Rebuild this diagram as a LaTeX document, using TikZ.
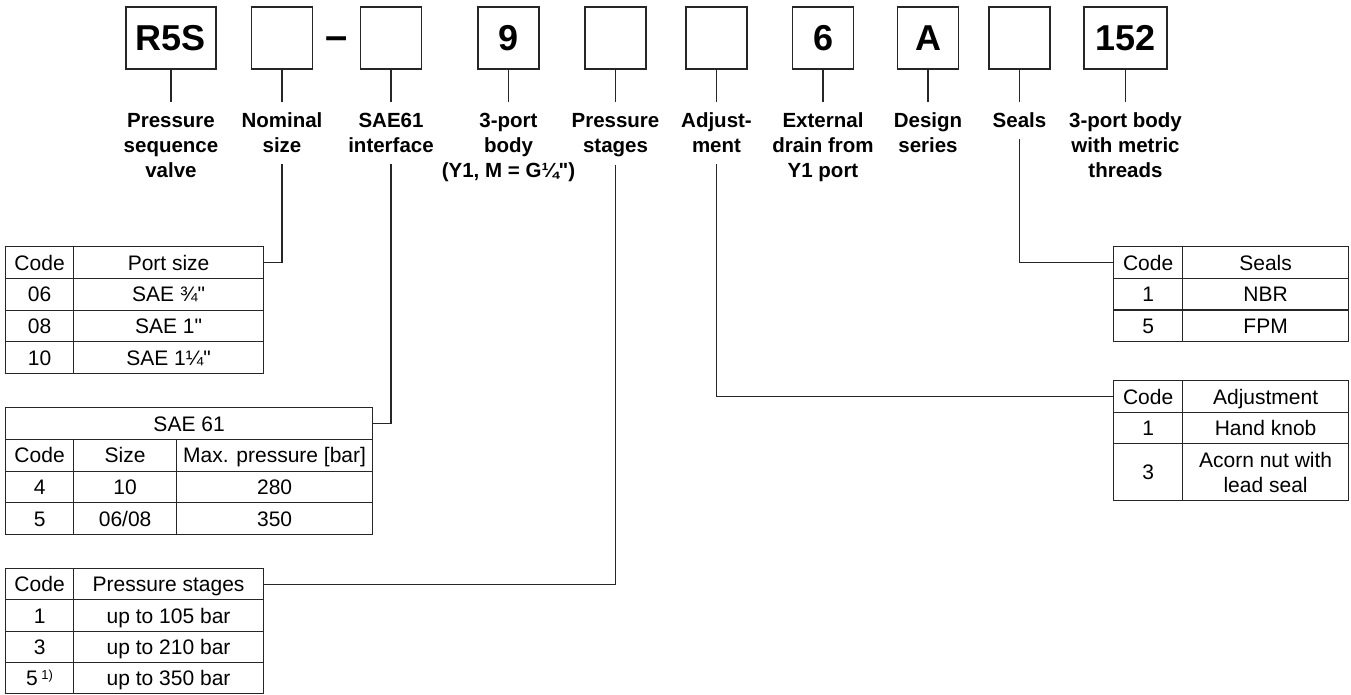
\documentclass[tikz,border=0pt]{standalone}
\usepackage{fontspec}
\newfontfamily\hv{Liberation Sans}
\newcommand\ls{\rule[-4pt]{0pt}{21pt}}
\tikzset{
 codebox/.style={draw=black!85, line width=1.3pt, minimum width=61, minimum height=62, inner sep=0, font=\hv\fontsize{36}{36}\selectfont\bfseries},
 lab/.style={anchor=north, align=center, inner xsep=0, inner ysep=8, font=\hv\fontsize{20.5}{25}\selectfont\bfseries},
 conn/.style={draw=black!85, line width=1.1pt},
 cell/.style={draw=black!85, line width=1.2pt, anchor=north west, inner sep=0, align=center, text height=15.5, text depth=0, font=\hv\fontsize{21}{25}\selectfont},
}
\begin{document}
\begin{tikzpicture}[x=1pt,y=-1pt]
\useasboundingbox (0,0) rectangle (1351,694);
% code boxes
\node[codebox, minimum width=90] (b1) at (171,38) {R5S};
\node[codebox] (b2) at (282,38) {};
\node[font=\hv\fontsize{40}{40}\selectfont\bfseries, inner sep=0, anchor=base] (dash) at (336.5,49) {–};
\node[codebox] (b3) at (391,38) {};
\node[codebox] (b4) at (508.5,38) {9};
\node[codebox] (b5) at (615.5,38) {};
\node[codebox] (b6) at (716.5,38) {};
\node[codebox] (b7) at (823,38) {6};
\node[codebox] (b8) at (928,38) {A};
\node[codebox] (b9) at (1019.5,38) {};
\node[codebox, minimum width=83] (b10) at (1125.5,38) {152};
% labels
\node[lab] (l1) at (171,102) {\ls Pressure\\\ls sequence\\\ls valve};
\node[lab] (l2) at (282,102) {\ls Nominal\\\ls size};
\node[lab] (l3) at (391,102) {\ls SAE61\\\ls interface};
\node[lab] (l4) at (508.5,102) {\ls 3-port\\\ls body\\\ls (Y1, M = G¼")};
\node[lab] (l5) at (615.5,102) {\ls Pressure\\\ls stages};
\node[lab] (l6) at (716.5,102) {\ls Adjust-\\\ls ment};
\node[lab] (l7) at (823,102) {\ls External\\\ls drain from\\\ls Y1 port};
\node[lab] (l8) at (928,102) {\ls Design\\\ls series};
\node[lab] (l9) at (1019.5,102) {\ls Seals};
\node[lab] (l10) at (1125.5,102) {\ls 3-port body\\\ls with metric\\\ls threads};
% ticks
\foreach \i in {1,...,10} {\draw[conn] (b\i.south) -- (l\i.north);}
% table 1: port size
\node[cell, minimum width=68, minimum height=31.75] (t1a0) at (5,246) {Code};
\node[cell, minimum width=190, minimum height=31.75] (t1b0) at (73,246) {Port size};
\node[cell, minimum width=68, minimum height=31.75] (t1a1) at (5,277.75) {06};
\node[cell, minimum width=190, minimum height=31.75] (t1b1) at (73,277.75) {SAE ¾"};
\node[cell, minimum width=68, minimum height=31.75] (t1a2) at (5,309.5) {08};
\node[cell, minimum width=190, minimum height=31.75] (t1b2) at (73,309.5) {SAE 1"};
\node[cell, minimum width=68, minimum height=31.75] (t1a3) at (5,341.25) {10};
\node[cell, minimum width=190, minimum height=31.75] (t1b3) at (73,341.25) {SAE 1¼"};
% table 2: SAE 61
\node[cell, minimum width=367, minimum height=31.75] (t2h) at (5,407) {SAE 61};
\node[cell, minimum width=68, minimum height=31.75] (t2a0) at (5,438.75) {Code};
\node[cell, minimum width=103, minimum height=31.75] (t2b0) at (73,438.75) {Size};
\node[cell, minimum width=196, minimum height=31.75] (t2c0) at (176,438.75) {Max. pressure [bar]};
\node[cell, minimum width=68, minimum height=31.75] (t2a1) at (5,470.5) {4};
\node[cell, minimum width=103, minimum height=31.75] (t2b1) at (73,470.5) {10};
\node[cell, minimum width=196, minimum height=31.75] (t2c1) at (176,470.5) {280};
\node[cell, minimum width=68, minimum height=31.75] (t2a2) at (5,502.25) {5};
\node[cell, minimum width=103, minimum height=31.75] (t2b2) at (73,502.25) {06/08};
\node[cell, minimum width=196, minimum height=31.75] (t2c2) at (176,502.25) {350};
% table 3: pressure stages
\node[cell, minimum width=68, minimum height=31.25] (t3a0) at (5,568) {Code};
\node[cell, minimum width=190, minimum height=31.25] (t3b0) at (73,568) {Pressure stages};
\node[cell, minimum width=68, minimum height=31.25] (t3a1) at (5,599.25) {1};
\node[cell, minimum width=190, minimum height=31.25] (t3b1) at (73,599.25) {up to 105 bar};
\node[cell, minimum width=68, minimum height=31.25] (t3a2) at (5,630.5) {3};
\node[cell, minimum width=190, minimum height=31.25] (t3b2) at (73,630.5) {up to 210 bar};
\node[cell, minimum width=68, minimum height=31.25] (t3a3) at (5,661.75) {5\,\raisebox{6pt}{\fontsize{13}{13}\selectfont 1)}};
\node[cell, minimum width=190, minimum height=31.25] (t3b3) at (73,661.75) {up to 350 bar};
% table 4: seals
\node[cell, minimum width=69, minimum height=31.67] (t4a0) at (1113,246) {Code};
\node[cell, minimum width=166, minimum height=31.67] (t4b0) at (1182,246) {Seals};
\node[cell, minimum width=69, minimum height=31.67] (t4a1) at (1113,277.67) {1};
\node[cell, minimum width=166, minimum height=31.67] (t4b1) at (1182,277.67) {NBR};
\node[cell, minimum width=69, minimum height=31.67] (t4a2) at (1113,309.33) {5};
\node[cell, minimum width=166, minimum height=31.67] (t4b2) at (1182,309.33) {FPM};
% table 5: adjustment
\node[cell, minimum width=69, minimum height=31.5] (t5a0) at (1113,380) {Code};
\node[cell, minimum width=166, minimum height=31.5] (t5b0) at (1182,380) {Adjustment};
\node[cell, minimum width=69, minimum height=31.5] (t5a1) at (1113,411.5) {1};
\node[cell, minimum width=166, minimum height=31.5] (t5b1) at (1182,411.5) {Hand knob};
\node[cell, minimum width=69, minimum height=57] (t5a2) at (1113,443) {3};
\node[cell, minimum width=166, minimum height=57, text height={}, text depth={}] (t5b2) at (1182,443) {Acorn nut with\\lead seal};
% connectors
\draw[conn] (l2.south) |- (t1b0.east);
\draw[conn] (l3.south) |- (t2h.east);
\draw[conn] (l5.south) |- (t3b0.east);
\draw[conn] (l9.south) |- (t4a0.west);
\draw[conn] (l6.south) |- (t5a0.west);
\end{tikzpicture}
\end{document}
